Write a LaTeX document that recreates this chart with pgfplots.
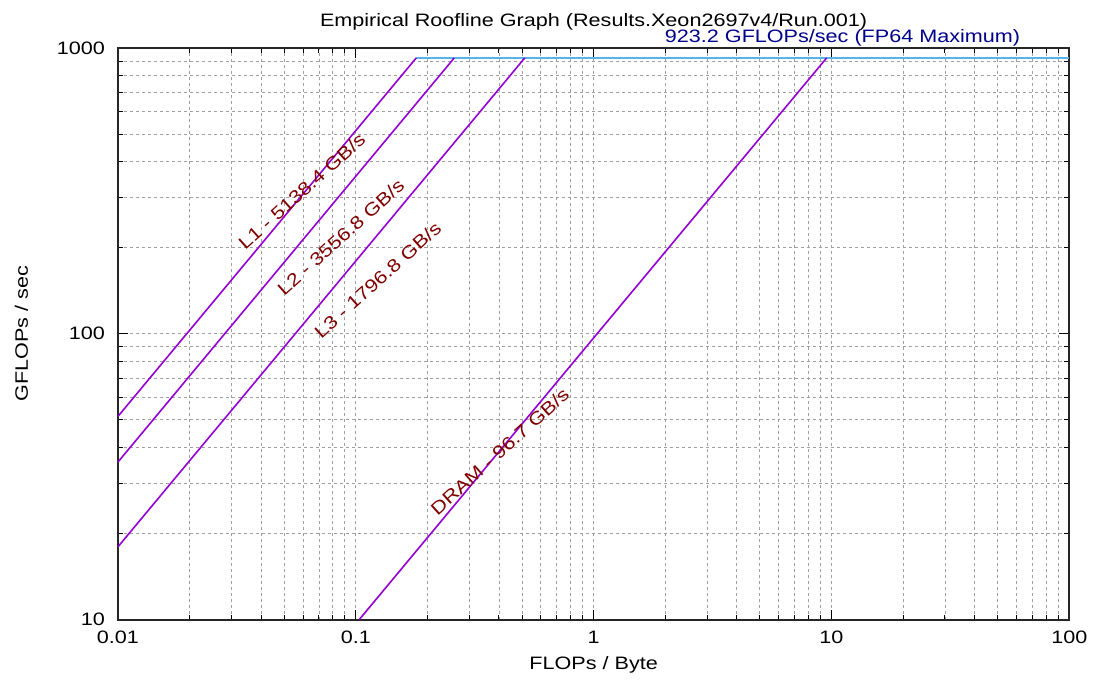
\documentclass[border=0pt]{standalone}
\usepackage{fontspec}
\setmainfont[FakeStretch=1.2]{Liberation Sans}
\usepackage{pgfplots}
\pgfplotsset{compat=1.18}
\definecolor{roofpurple}{RGB}{148,0,211}
\definecolor{roofcyan}{RGB}{86,180,233}
\definecolor{labred}{RGB}{128,0,0}
\definecolor{labblue}{RGB}{0,0,139}
\begin{document}
\begin{tikzpicture}
\path (0,0) rectangle (547pt,341pt);
\begin{axis}[
  at={(59pt,31pt)}, anchor=south west,
  scale only axis, width=476pt, height=286pt,
  xmode=log, ymode=log,
  xmin=0.01, xmax=100, ymin=10, ymax=1000,
  xtick={0.01,0.1,1,10,100}, xticklabels={0.01,0.1,1,10,100},
  ytick={10,100,1000}, yticklabels={10,100,1000},
  minor xtick={0.02,0.03,0.04,0.05,0.06,0.07,0.08,0.09,0.2,0.3,0.4,0.5,0.6,0.7,0.8,0.9,2,3,4,5,6,7,8,9,20,30,40,50,60,70,80,90},
  minor ytick={20,30,40,50,60,70,80,90,200,300,400,500,600,700,800,900},
  grid=both,
  major grid style={gray!75, dash pattern=on 1.5pt off 1.5pt, line width=0.4pt},
  minor grid style={gray!75, dash pattern=on 1.5pt off 1.5pt, line width=0.4pt},
  tick align=inside, major tick length=5pt, minor tick length=2.5pt,
  tick style={black, line width=0.5pt},
  axis line style={line width=0.9pt, black!85},
  /pgf/number format/assume math mode=true,
  tick label style={font=\fontsize{9}{10}\selectfont},
  xticklabel style={yshift=-2pt},
  yticklabel style={xshift=-3pt},
  clip=false,
]
\addplot[roofcyan, line width=0.8pt] coordinates {(0.17967,923.2) (100,923.2)};
\addplot[roofpurple, line width=0.8pt] coordinates {(0.01,51.384) (0.17967,923.2)};
\addplot[roofpurple, line width=0.8pt] coordinates {(0.01,35.568) (0.25956,923.2)};
\addplot[roofpurple, line width=0.8pt] coordinates {(0.01,17.968) (0.51380,923.2)};
\addplot[roofpurple, line width=0.8pt] coordinates {(0.103413,10) (9.5470,923.2)};
\node[labred, rotate=42, font=\fontsize{9}{10}\selectfont] at (axis cs:0.0593,316) {L1 - 5138.4 GB/s};
\node[labred, rotate=42, font=\fontsize{9}{10}\selectfont] at (axis cs:0.0865,218) {L2 - 3556.8 GB/s};
\node[labred, rotate=42, font=\fontsize{9}{10}\selectfont] at (axis cs:0.1237,154.5) {L3 - 1796.8 GB/s};
\node[labred, rotate=42, font=\fontsize{9}{10}\selectfont] at (axis cs:0.403,38.7) {DRAM - 96.7 GB/s};
\node[labblue, anchor=base, font=\fontsize{9}{10}\selectfont, inner sep=0pt] at ([yshift=2.5pt]rel axis cs:0.7616,1) {923.2 GFLOPs/sec (FP64 Maximum)};
\node[anchor=base, font=\fontsize{9}{10}\selectfont, inner sep=0pt] at ([yshift=10.5pt]rel axis cs:0.5,1) {Empirical Roofline Graph (Results.Xeon2697v4/Run.001)};
\node[anchor=base, font=\fontsize{9}{10}\selectfont, inner sep=0pt] at ([yshift=-25pt]rel axis cs:0.5,0) {FLOPs / Byte};
\node[anchor=base, rotate=90, font=\fontsize{9}{10}\selectfont, inner sep=0pt] at ([xshift=-45pt]rel axis cs:0,0.5) {GFLOPs / sec};
\end{axis}
\end{tikzpicture}
\end{document}
